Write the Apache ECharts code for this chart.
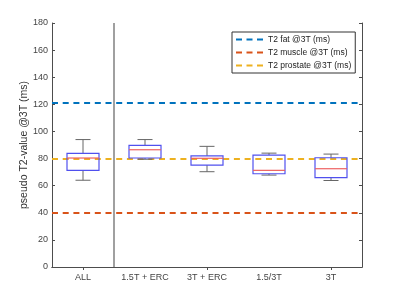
<!DOCTYPE html>
<html>
<head>
<meta charset="utf-8">
<script src="https://cdn.jsdelivr.net/npm/echarts@6/dist/echarts.min.js"></script>
<style>
  html, body { margin: 0; padding: 0; background: #fff; }
  #chart { width: 400px; height: 300px; }
</style>
</head>
<body>
<div id="chart"></div>
<script>
// groups on the x axis
const categories = ['ALL', '1.5T + ERC', '3T + ERC', '1.5/3T', '3T'];
// box plot stats per group (ms)
const whiskerLow = [64, 79.5, 70.3, 67.8, 63.8];
const q1 = [71.3, 80.4, 75.2, 68.8, 66];
const median = [80.4, 86.5, 80.2, 71.3, 72.5];
const q3 = [83.8, 89.7, 82, 82.6, 80.6];
const whiskerHigh = [94, 94, 89, 84, 83.3];
// reference T2 values
const refNames = ['T2 fat @3T (ms)', 'T2 muscle @3T (ms)', 'T2 prostate @3T (ms)'];
const refValues = [121.3, 40, 80];
const refColors = ['#0072BD', '#D95319', '#EDB120'];
// y axis ticks
const yMin = 0, yMax = 180, yStep = 20;

const chart = echarts.init(document.getElementById('chart'));
const font = 'Liberation Sans, Arial, sans-serif';
const axisColor = '#4d4d4d';

const boxData = categories.map((c, i) => [i, whiskerLow[i], q1[i], median[i], q3[i], whiskerHigh[i]]);

function renderBox(params, api) {
  const i = api.value(0);
  const lo = api.coord([i, api.value(1)]);
  const b1 = api.coord([i, api.value(2)]);
  const md = api.coord([i, api.value(3)]);
  const b3 = api.coord([i, api.value(4)]);
  const hi = api.coord([i, api.value(5)]);
  const x = lo[0], bw = 32, cw = 15;
  const wStyle = { stroke: '#666', lineWidth: 1, fill: null };
  return {
    type: 'group',
    children: [
      { type: 'line', shape: { x1: x, y1: b3[1], x2: x, y2: hi[1] }, style: wStyle },
      { type: 'line', shape: { x1: x, y1: b1[1], x2: x, y2: lo[1] }, style: wStyle },
      { type: 'line', shape: { x1: x - cw / 2, y1: hi[1], x2: x + cw / 2, y2: hi[1] }, style: wStyle },
      { type: 'line', shape: { x1: x - cw / 2, y1: lo[1], x2: x + cw / 2, y2: lo[1] }, style: wStyle },
      { type: 'rect', shape: { x: x - bw / 2, y: b3[1], width: bw, height: b1[1] - b3[1] },
        style: { stroke: '#5050ee', lineWidth: 1.2, fill: null } },
      { type: 'line', shape: { x1: x - bw / 2, y1: md[1], x2: x + bw / 2, y2: md[1] },
        style: { stroke: '#ee6060', lineWidth: 1.2 } }
    ]
  };
}

const refSeries = refNames.map((name, k) => ({
  name: name,
  type: 'line',
  xAxisIndex: 0,
  yAxisIndex: 0,
  data: [],
  symbol: 'none',
  showSymbol: false,
  color: refColors[k],
  lineStyle: { color: refColors[k], width: 2, type: [6, 4.5] },
  markLine: {
    silent: true,
    symbol: 'none',
    label: { show: false },
    animation: false,
    lineStyle: { color: refColors[k], width: 2, type: [6, 4.7] },
    data: [{ yAxis: refValues[k] }]
  }
}));

const option = {
  animation: false,
  textStyle: { fontFamily: font },
  grid: { left: 52, right: 38, top: 23, bottom: 33 },
  legend: {
    data: refNames,
    orient: 'vertical',
    left: 232,
    top: 32,
    itemWidth: 27,
    itemHeight: 8,
    itemGap: 4,
    padding: [3, 4, 3, 3],
    backgroundColor: '#fff',
    borderColor: '#333',
    borderWidth: 1,
    itemStyle: { opacity: 0, borderWidth: 0 },
    lineStyle: { type: [6, 4.5], width: 2 },
    textStyle: { fontSize: 8.5, color: '#222', fontFamily: font }
  },
  xAxis: [
    {
      type: 'category',
      data: categories,
      position: 'bottom',
      axisLine: { lineStyle: { color: axisColor } },
      axisTick: { inside: true, alignWithLabel: true, length: 3, lineStyle: { color: axisColor } },
      axisLabel: { fontSize: 9, color: '#444', margin: 6 }
    },
    {
      type: 'category',
      data: categories,
      position: 'top',
      axisLine: { show: true, lineStyle: { color: axisColor } },
      axisTick: { show: true, inside: true, alignWithLabel: true, length: 3, lineStyle: { color: axisColor } },
      axisLabel: { show: false }
    },
    { type: 'value', min: 0, max: categories.length, show: false }
  ],
  yAxis: [
    {
      type: 'value',
      min: yMin, max: yMax, interval: yStep,
      name: 'pseudo T2-value @3T (ms)',
      nameLocation: 'middle',
      nameGap: 22,
      nameMoveOverlap: false,
      nameTextStyle: { fontSize: 10.5, color: '#333' },
      axisLine: { show: true, lineStyle: { color: axisColor } },
      axisTick: { show: true, inside: true, length: 3, lineStyle: { color: axisColor } },
      axisLabel: { fontSize: 9, color: '#444', margin: 4 },
      splitLine: { show: false }
    },
    {
      type: 'value',
      min: yMin, max: yMax, interval: yStep,
      position: 'right',
      axisLine: { show: true, lineStyle: { color: axisColor } },
      axisTick: { show: true, inside: true, length: 3, lineStyle: { color: axisColor } },
      axisLabel: { show: false },
      splitLine: { show: false }
    }
  ],
  series: [
    ...refSeries,
    {
      name: 'separator',
      type: 'line',
      xAxisIndex: 2,
      yAxisIndex: 0,
      data: [],
      markLine: {
        silent: true,
        symbol: 'none',
        label: { show: false },
        animation: false,
        lineStyle: { color: '#808080', width: 1.5, type: 'solid' },
        data: [{ xAxis: 1 }]
      }
    },
    {
      name: 'boxes',
      type: 'custom',
      xAxisIndex: 0,
      yAxisIndex: 0,
      renderItem: renderBox,
      encode: { x: 0, y: [1, 2, 3, 4, 5] },
      data: boxData,
      z: 5
    }
  ]
};

chart.setOption(option);
</script>
</body>
</html>
